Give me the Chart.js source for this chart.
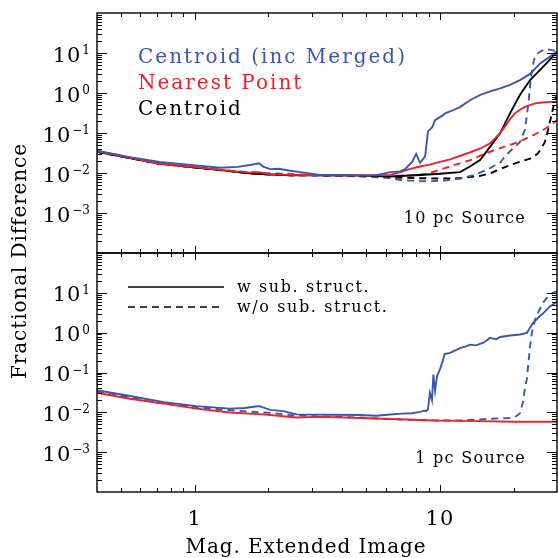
<!DOCTYPE html>
<html>
<head>
<meta charset="utf-8">
<script src="https://cdn.jsdelivr.net/npm/chart.js@4/dist/chart.umd.min.js"></script>
<style>
  html, body { margin: 0; padding: 0; background: #fff; }
  #wrap { position: relative; width: 558px; height: 558px; }
  #wrap canvas { position: absolute; left: 0; top: 0; }
</style>
</head>
<body>
<div id="wrap">
  <canvas id="topPanel" width="558" height="558"></canvas>
  <canvas id="bottomPanel" width="558" height="558"></canvas>
</div>
<script>
// axis limits
const xMin = 0.4, xMax = 30;
const yMin = 1e-4, yMax = 100;
const xTickLabels = [1, 10];
const yTickExps = [-3, -2, -1, 0, 1];

// text
const topLegend = ['Centroid (inc Merged)', 'Nearest Point', 'Centroid'];
const bottomLegend = ['w sub. struct.', 'w/o sub. struct.'];
const topSource = '10 pc Source';
const bottomSource = '1 pc Source';
const yTitle = 'Fractional Difference';
const xTitle = 'Mag. Extended Image';

const blue = '#3b56ab';
const red = '#ec2229';
const black = '#000000';

// ---- 10 pc source (top panel) ----
const blueSolidTopX = [0.4, 0.545, 0.72, 0.96, 1.27, 1.5, 1.68, 1.83, 1.9, 2.03, 2.2, 2.45, 2.7, 3.24, 3.8, 4.72, 5.5, 6.26, 6.9, 7.2, 7.7, 8.0, 8.3, 8.7, 8.94, 9.3, 9.55, 10.0, 10.3, 10.5, 11.2, 12.1, 13.3, 14.6, 16.0, 17.6, 19.3, 21.2, 23.3, 25.6, 28.0, 30.0];
const blueSolidTopY = [0.036, 0.025, 0.019, 0.016, 0.0135, 0.0142, 0.0158, 0.0174, 0.0145, 0.0125, 0.0128, 0.0114, 0.0105, 0.009, 0.0089, 0.0087, 0.0088, 0.0105, 0.011, 0.0125, 0.019, 0.03, 0.018, 0.026, 0.11, 0.14, 0.21, 0.25, 0.28, 0.31, 0.36, 0.45, 0.67, 0.9, 1.1, 1.3, 1.6, 2.1, 3.0, 5.5, 8.0, 10.8];

const blueDashTopX = [0.4, 0.72, 1.27, 1.68, 2.03, 2.45, 3.24, 4.72, 6.26, 6.9, 8.0, 8.94, 10.5, 12.1, 13.9, 16.0, 17.6, 18.4, 19.3, 20.2, 21.2, 22.2, 22.9, 23.5, 24.2, 25.1, 26.8, 28.3, 30.0];
const blueDashTopY = [0.034, 0.017, 0.012, 0.0105, 0.0098, 0.0095, 0.0087, 0.0082, 0.0075, 0.0067, 0.0063, 0.0062, 0.0065, 0.0073, 0.009, 0.0133, 0.018, 0.026, 0.035, 0.045, 0.06, 0.12, 0.5, 2.5, 7.0, 10.0, 12.5, 12.0, 11.0];

const redSolidTopX = [0.4, 0.545, 0.72, 0.96, 1.27, 1.68, 1.83, 2.03, 2.45, 3.24, 3.8, 4.72, 6.26, 6.88, 7.5, 8.3, 9.0, 10.0, 11.0, 12.1, 13.3, 14.6, 16.0, 16.8, 17.6, 18.4, 19.3, 20.2, 21.2, 22.2, 23.3, 24.4, 25.6, 27.0, 28.5, 30.0];
const redSolidTopY = [0.035, 0.024, 0.017, 0.0145, 0.012, 0.0102, 0.0105, 0.0093, 0.009, 0.0088, 0.0087, 0.0087, 0.0089, 0.0105, 0.0125, 0.0145, 0.016, 0.019, 0.022, 0.027, 0.033, 0.041, 0.055, 0.074, 0.1, 0.144, 0.22, 0.31, 0.38, 0.45, 0.5, 0.55, 0.57, 0.59, 0.6, 0.6];

const redDashTopX = [0.4, 0.72, 1.27, 1.68, 2.03, 2.45, 3.24, 4.72, 6.26, 7.7, 8.9, 10.3, 11.5, 13.3, 14.6, 16.0, 17.6, 19.3, 21.2, 23.3, 25.0, 26.3, 28.0, 30.0];
const redDashTopY = [0.034, 0.017, 0.0118, 0.0098, 0.0092, 0.0088, 0.0087, 0.0086, 0.0085, 0.0087, 0.0095, 0.0128, 0.016, 0.021, 0.027, 0.034, 0.042, 0.05, 0.062, 0.081, 0.1, 0.119, 0.15, 0.21];

const blackSolidTopX = [0.4, 0.72, 1.27, 1.68, 2.03, 2.45, 3.24, 4.72, 6.26, 8.3, 10.0, 12.07, 13.26, 14.57, 16.0, 17.58, 19.3, 21.2, 23.3, 24.9, 26.3, 28.2, 30.0];
const blackSolidTopY = [0.034, 0.017, 0.0118, 0.0098, 0.0092, 0.0088, 0.0087, 0.0086, 0.0082, 0.0089, 0.0096, 0.0105, 0.0145, 0.021, 0.045, 0.098, 0.31, 0.9, 2.1, 3.2, 4.5, 7.0, 11.0];

const blackDashTopX = [0.4, 0.72, 1.27, 1.68, 2.03, 2.45, 3.24, 4.72, 6.26, 8.3, 10.0, 12.1, 14.6, 16.0, 17.6, 19.3, 21.2, 23.3, 25.0, 25.6, 26.8, 27.6, 28.6, 29.3, 30.0];
const blackDashTopY = [0.034, 0.017, 0.0118, 0.0098, 0.0092, 0.0088, 0.0087, 0.0085, 0.0078, 0.0074, 0.0073, 0.0074, 0.0085, 0.0098, 0.0125, 0.0158, 0.019, 0.023, 0.03, 0.037, 0.06, 0.12, 0.31, 0.6, 0.9];

// ---- 1 pc source (bottom panel) ----
const blueSolidBotX = [0.4, 0.545, 0.75, 1.02, 1.39, 1.6, 1.74, 1.84, 2.03, 2.3, 2.6, 3.56, 4.72, 5.5, 6.26, 7.0, 7.7, 8.3, 8.6, 8.8, 8.94, 9.1, 9.28, 9.4, 9.55, 9.73, 10.0, 10.3, 10.45, 11.0, 12.07, 12.85, 13.26, 14.0, 15.05, 16.0, 17.0, 17.6, 19.3, 21.2, 22.6, 23.95, 25.0, 26.4, 28.0, 30.0];
const blueSolidBotY = [0.036, 0.0257, 0.018, 0.0143, 0.0124, 0.0128, 0.0138, 0.0143, 0.0115, 0.0107, 0.0089, 0.0087, 0.0086, 0.0082, 0.0088, 0.0093, 0.0095, 0.0103, 0.011, 0.0108, 0.012, 0.031, 0.02, 0.089, 0.035, 0.08, 0.12, 0.21, 0.29, 0.31, 0.41, 0.46, 0.5, 0.48, 0.56, 0.74, 0.68, 0.78, 0.85, 0.9, 0.99, 1.74, 2.3, 3.1, 4.5, 6.0];

const blueDashBotX = [0.4, 0.72, 1.27, 1.68, 2.03, 2.45, 3.24, 4.72, 6.26, 8.3, 10.0, 12.1, 14.6, 16.0, 17.6, 19.3, 20.2, 21.2, 21.8, 22.2, 22.6, 23.0, 23.3, 23.7, 24.4, 25.3, 26.3, 27.5, 28.8, 30.0];
const blueDashBotY = [0.033, 0.017, 0.0118, 0.0104, 0.0097, 0.0086, 0.0079, 0.0074, 0.0068, 0.0064, 0.0062, 0.0063, 0.0066, 0.0069, 0.0071, 0.0072, 0.0076, 0.0095, 0.018, 0.04, 0.068, 0.2, 0.46, 1.0, 2.1, 3.5, 5.6, 8.0, 10.0, 11.0];

const redSolidBotX = [0.4, 0.545, 0.75, 1.02, 1.39, 1.9, 2.2, 2.6, 3.2, 3.8, 4.72, 6.26, 8.3, 10.0, 14.6, 20.0, 30.0];
const redSolidBotY = [0.031, 0.022, 0.0165, 0.0124, 0.0099, 0.0089, 0.0082, 0.0074, 0.0077, 0.0075, 0.0072, 0.0068, 0.0064, 0.0062, 0.006, 0.0058, 0.0058];

function pts(xs, ys) { return xs.map((x, i) => ({ x: x, y: ys[i] })); }
function series(xs, ys, color, dashed) {
  return { data: pts(xs, ys), borderColor: color, borderDash: dashed ? [7, 5] : [], borderWidth: 1.9 };
}

const topSets = [
  series(blueSolidTopX, blueSolidTopY, blue, false),
  series(redSolidTopX, redSolidTopY, red, false),
  series(blackSolidTopX, blackSolidTopY, black, false),
  series(blueDashTopX, blueDashTopY, blue, true),
  series(redDashTopX, redDashTopY, red, true),
  series(blackDashTopX, blackDashTopY, black, true)
];
const bottomSets = [
  series(redSolidBotX, redSolidBotY, red, false),
  series(blueSolidBotX, blueSolidBotY, blue, false),
  series(blueDashBotX, blueDashBotY, blue, true)
];

const serif = '"DejaVu Serif", serif';

function line(ctx, x1, y1, x2, y2) {
  ctx.beginPath(); ctx.moveTo(x1, y1); ctx.lineTo(x2, y2); ctx.stroke();
}

const framePlugin = {
  id: 'frame',
  afterDatasetsDraw(chart, args, opts) {
    const ctx = chart.ctx, a = chart.chartArea;
    const xs = chart.scales.x, ys = chart.scales.y;
    ctx.save();
    ctx.strokeStyle = '#000';
    ctx.lineWidth = 1.4;
    ctx.strokeRect(a.left, a.top, a.right - a.left, a.bottom - a.top);
    ctx.lineWidth = 1;
    // x ticks top and bottom, pointing inward
    for (let e = -1; e <= 1; e++) {
      for (let m = 1; m <= 9; m++) {
        const v = m * Math.pow(10, e);
        if (v <= xMin || v >= xMax) continue;
        const p = Math.round(xs.getPixelForValue(v)) + 0.5;
        const len = m === 1 ? 7 : 4;
        line(ctx, p, a.bottom, p, a.bottom - len);
        line(ctx, p, a.top, p, a.top + len);
      }
    }
    // y ticks left and right
    for (let e = -4; e <= 1; e++) {
      for (let m = 1; m <= 9; m++) {
        const v = m * Math.pow(10, e);
        if (v <= yMin || v >= yMax) continue;
        const p = Math.round(ys.getPixelForValue(v)) + 0.5;
        const len = m === 1 ? 10 : 5;
        line(ctx, a.left, p, a.left + len, p);
        line(ctx, a.right, p, a.right - len, p);
      }
    }
    // y tick labels 10^n
    ctx.fillStyle = '#000';
    ctx.textBaseline = 'alphabetic';
    yTickExps.forEach(e => {
      const p = ys.getPixelForValue(Math.pow(10, e));
      const sup = e < 0 ? '\u2212' + (-e) : String(e);
      ctx.font = '12px ' + serif;
      ctx.textAlign = 'right';
      ctx.letterSpacing = '0px';
      const supW = ctx.measureText(sup).width;
      ctx.fillText(sup, 90, p + 1);
      ctx.font = '21px ' + serif;
      ctx.letterSpacing = '1px';
      ctx.fillText('10', 90 - supW - 1, p + 8.5);
    });
    // inner texts
    (opts.texts || []).forEach(t => {
      ctx.font = t.size + 'px ' + serif;
      ctx.letterSpacing = (t.spacing || 0) + 'px';
      ctx.textAlign = t.align || 'left';
      ctx.fillStyle = t.color || '#000';
      ctx.fillText(t.text, t.x, t.y);
    });
    ctx.letterSpacing = '0px';
    // legend line samples
    (opts.samples || []).forEach(s => {
      ctx.strokeStyle = '#000';
      ctx.lineWidth = 1.4;
      ctx.setLineDash(s.dashed ? [7, 5] : []);
      line(ctx, s.x1, s.y, s.x2, s.y);
    });
    ctx.setLineDash([]);
    // x tick labels and titles
    if (opts.xAxis) {
      ctx.fillStyle = '#000';
      ctx.font = '21px ' + serif;
      ctx.textAlign = 'center';
      ctx.letterSpacing = '1px';
      xTickLabels.forEach(v => {
        ctx.fillText(String(v), xs.getPixelForValue(v), 525);
      });
      ctx.font = '20px ' + serif;
      ctx.letterSpacing = '0.9px';
      ctx.fillText(xTitle, 306, 553);
      ctx.save();
      ctx.translate(26, 261);
      ctx.rotate(-Math.PI / 2);
      ctx.fillText(yTitle, 0, 0);
      ctx.restore();
      ctx.letterSpacing = '0px';
    }
    ctx.restore();
  }
};

function makeChart(id, datasets, pad, frameOpts) {
  return new Chart(document.getElementById(id), {
    type: 'line',
    data: { datasets: datasets },
    options: {
      responsive: false,
      animation: false,
      layout: { padding: pad },
      plugins: {
        legend: { display: false },
        tooltip: { enabled: false },
        frame: frameOpts
      },
      elements: { point: { radius: 0 }, line: { tension: 0 } },
      scales: {
        x: { type: 'logarithmic', min: xMin, max: xMax, display: false },
        y: { type: 'logarithmic', min: yMin, max: yMax, display: false }
      }
    },
    plugins: [framePlugin]
  });
}

makeChart('topPanel', topSets, { left: 97, top: 13, right: 1, bottom: 305 }, {
  texts: [
    { text: topLegend[0], x: 138, y: 63, size: 20, spacing: 2, color: blue },
    { text: topLegend[1], x: 138, y: 89, size: 20, spacing: 2, color: red },
    { text: topLegend[2], x: 138, y: 115, size: 20, spacing: 2, color: black },
    { text: topSource, x: 526, y: 223, size: 16, spacing: 1.3, align: 'right' }
  ]
});

makeChart('bottomPanel', bottomSets, { left: 97, top: 253, right: 1, bottom: 66 }, {
  texts: [
    { text: bottomLegend[0], x: 237, y: 292, size: 16, spacing: 1.6 },
    { text: bottomLegend[1], x: 237, y: 312, size: 16, spacing: 1.6 },
    { text: bottomSource, x: 526, y: 463, size: 16, spacing: 1.3, align: 'right' }
  ],
  samples: [
    { x1: 128, x2: 224, y: 287, dashed: false },
    { x1: 128, x2: 224, y: 307, dashed: true }
  ],
  xAxis: true
});
</script>
</body>
</html>
